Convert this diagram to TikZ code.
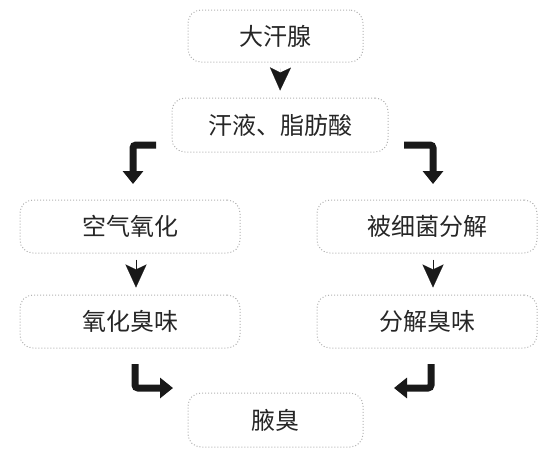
\documentclass[tikz,border=0pt]{standalone}
\usepackage{fontspec}
\newfontfamily\cjk{Noto Sans CJK SC}
\usetikzlibrary{arrows.meta,calc}
\begin{document}
\begin{tikzpicture}[x=1pt,y=-1pt,
  box/.style={draw=black!30,dotted,line width=1pt,rounded corners=13pt,inner sep=0pt,
    font=\cjk\fontsize{24}{26}\selectfont,text=black!85},
  tri/.style={line width=0.1pt,black!90,-{Stealth[length=23pt,width=21pt,inset=5pt]},shorten <=6pt,shorten >=7pt},
  bent/.style={line width=7pt,black!90,rounded corners=3pt,-{Triangle[length=13pt,width=20pt]}}]
\useasboundingbox (0,0) rectangle (551,453);
\node[box,minimum width=175pt,minimum height=52pt] (b1) at (275.5,36) {大汗腺};
\node[box,minimum width=216pt,minimum height=54pt] (b2) at (280,125) {汗液、脂肪酸};
\node[box,minimum width=220pt,minimum height=53pt] (b3) at (130,226.5) {空气氧化};
\node[box,minimum width=220pt,minimum height=53pt] (b4) at (130,321.5) {氧化臭味};
\node[box,minimum width=220pt,minimum height=53pt] (b5) at (427,226.5) {被细菌分解};
\node[box,minimum width=220pt,minimum height=53pt] (b6) at (427,321.5) {分解臭味};
\node[box,minimum width=175pt,minimum height=54pt] (b7) at (275.5,420) {腋臭};
% triangle arrows
\draw[tri] ($(b1.south)+(5,0)$) -- ($(b2.north)+(0,0)$);
\draw[tri] ($(b3.south)+(6,0)$) -- ($(b4.north)+(6,0)$);
\draw[tri] ($(b5.south)+(6,0)$) -- ($(b6.north)+(6,0)$);
% bent arrows
\coordinate (l1) at (156,145); \coordinate (l2) at (133,184);
\coordinate (r1) at (404,145); \coordinate (r2) at (433,184);
\coordinate (l3) at (135,364); \coordinate (l4) at (173,388);
\coordinate (r3) at (431,364); \coordinate (r4) at (394,388);
\draw[bent] (l1) -| (l2);
\draw[bent] (r1) -| (r2);
\draw[bent] (l3) |- (l4);
\draw[bent] (r3) |- (r4);
\end{tikzpicture}
\end{document}
